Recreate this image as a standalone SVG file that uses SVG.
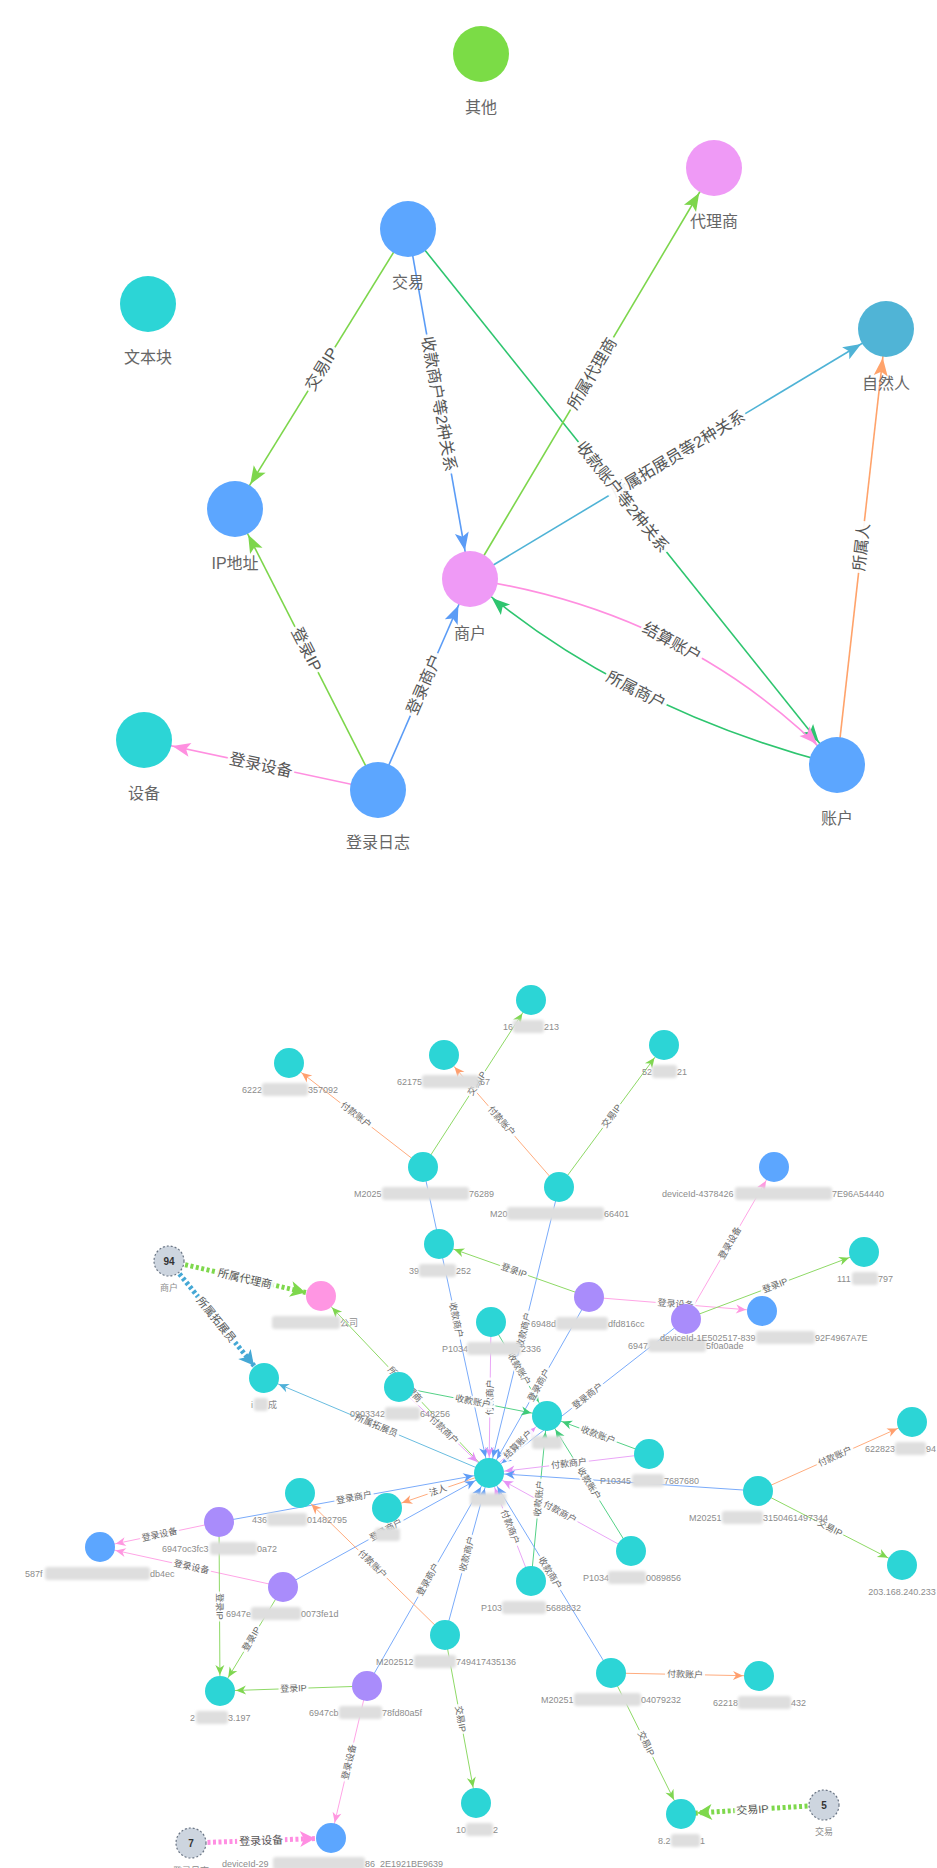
<svg xmlns="http://www.w3.org/2000/svg" width="937" height="1868" viewBox="0 0 937 1868">
<defs>
<style>
text{font-family:"Liberation Sans","Noto Sans CJK SC",sans-serif}
.t{fill:none;stroke-width:1.6}
.b{fill:none;stroke-width:1}
.d{fill:none;stroke-width:5;stroke-dasharray:3 2.5}
.tl rect{fill:#fff;opacity:.92}
.tl text{font-size:16px;fill:#555;text-anchor:middle;dominant-baseline:central}
.bl rect{fill:#fff;opacity:.88}
.bl text{font-size:9px;fill:#666;text-anchor:middle;dominant-baseline:central}
.dl rect{fill:#fff;opacity:.9}
.dl text{font-size:11px;fill:#555;text-anchor:middle;dominant-baseline:central}
.tn text{font-size:16px;fill:#666;text-anchor:middle}
.bn text{font-size:9px;fill:#8c8c8c}
.bz{fill:#dedede;filter:url(#bf)}
.gn circle{fill:#cdd5df;stroke:#6b7685;stroke-width:1.2;stroke-dasharray:2 2}
.cy{fill:#2cd5d6}.pu{fill:#a98cfb}.bu{fill:#5ca6ff}.pk{fill:#ff96e3}
</style>
<filter id="bf" x="-20%" y="-60%" width="140%" height="220%"><feGaussianBlur stdDeviation="1.6"/></filter>
<marker id="t-green" markerUnits="userSpaceOnUse" orient="auto" overflow="visible" markerWidth="1" markerHeight="1"><path d="M-29,0 L-47,-7 L-43,0 L-47,7Z" fill="#7dd64c"/></marker>
<marker id="t-blue" markerUnits="userSpaceOnUse" orient="auto" overflow="visible" markerWidth="1" markerHeight="1"><path d="M-29,0 L-47,-7 L-43,0 L-47,7Z" fill="#5b9cf6"/></marker>
<marker id="t-emer" markerUnits="userSpaceOnUse" orient="auto" overflow="visible" markerWidth="1" markerHeight="1"><path d="M-29,0 L-47,-7 L-43,0 L-47,7Z" fill="#2ec56f"/></marker>
<marker id="t-lblue" markerUnits="userSpaceOnUse" orient="auto" overflow="visible" markerWidth="1" markerHeight="1"><path d="M-29,0 L-47,-7 L-43,0 L-47,7Z" fill="#4fb3d6"/></marker>
<marker id="t-orange" markerUnits="userSpaceOnUse" orient="auto" overflow="visible" markerWidth="1" markerHeight="1"><path d="M-29,0 L-47,-7 L-43,0 L-47,7Z" fill="#ffa36b"/></marker>
<marker id="t-pink" markerUnits="userSpaceOnUse" orient="auto" overflow="visible" markerWidth="1" markerHeight="1"><path d="M-29,0 L-47,-7 L-43,0 L-47,7Z" fill="#ff8fe0"/></marker>
<marker id="b-blue" markerUnits="userSpaceOnUse" orient="auto" overflow="visible" markerWidth="1" markerHeight="1"><path d="M-16,0 L-26,-4.5 L-23,0 L-26,4.5Z" fill="#5f9cf6"/></marker>
<marker id="b-violet" markerUnits="userSpaceOnUse" orient="auto" overflow="visible" markerWidth="1" markerHeight="1"><path d="M-16,0 L-26,-4.5 L-23,0 L-26,4.5Z" fill="#e592f5"/></marker>
<marker id="b-emer" markerUnits="userSpaceOnUse" orient="auto" overflow="visible" markerWidth="1" markerHeight="1"><path d="M-16,0 L-26,-4.5 L-23,0 L-26,4.5Z" fill="#3fcb78"/></marker>
<marker id="b-green" markerUnits="userSpaceOnUse" orient="auto" overflow="visible" markerWidth="1" markerHeight="1"><path d="M-16,0 L-26,-4.5 L-23,0 L-26,4.5Z" fill="#7fd650"/></marker>
<marker id="b-orange" markerUnits="userSpaceOnUse" orient="auto" overflow="visible" markerWidth="1" markerHeight="1"><path d="M-16,0 L-26,-4.5 L-23,0 L-26,4.5Z" fill="#ff9f6e"/></marker>
<marker id="b-pink" markerUnits="userSpaceOnUse" orient="auto" overflow="visible" markerWidth="1" markerHeight="1"><path d="M-16,0 L-26,-4.5 L-23,0 L-26,4.5Z" fill="#ff97e0"/></marker>
<marker id="b-lblue" markerUnits="userSpaceOnUse" orient="auto" overflow="visible" markerWidth="1" markerHeight="1"><path d="M-16,0 L-26,-4.5 L-23,0 L-26,4.5Z" fill="#4fb0d8"/></marker>
<marker id="d-green" markerUnits="userSpaceOnUse" orient="auto" overflow="visible" markerWidth="1" markerHeight="1"><path d="M-16,0 L-31,-8 L-27,0 L-31,8Z" fill="#7ed84c"/></marker>
<marker id="d-lblue" markerUnits="userSpaceOnUse" orient="auto" overflow="visible" markerWidth="1" markerHeight="1"><path d="M-16,0 L-31,-8 L-27,0 L-31,8Z" fill="#45a8d5"/></marker>
<marker id="d-pink" markerUnits="userSpaceOnUse" orient="auto" overflow="visible" markerWidth="1" markerHeight="1"><path d="M-16,0 L-31,-8 L-27,0 L-31,8Z" fill="#ff8ee2"/></marker>
</defs>
<rect width="937" height="1868" fill="#fff"/>

<g id="schema-edges">
<line class="t" x1="408" y1="229" x2="235" y2="509" stroke="#7dd64c" marker-end="url(#t-green)"/>
<line class="t" x1="408" y1="229" x2="470" y2="579" stroke="#5b9cf6" marker-end="url(#t-blue)"/>
<line class="t" x1="408" y1="229" x2="837" y2="765" stroke="#2ec56f" marker-end="url(#t-emer)"/>
<line class="t" x1="470" y1="579" x2="714" y2="168" stroke="#7dd64c" marker-end="url(#t-green)"/>
<line class="t" x1="470" y1="579" x2="886" y2="329" stroke="#4fb3d6" marker-end="url(#t-lblue)"/>
<line class="t" x1="837" y1="765" x2="886" y2="329" stroke="#ffa36b" marker-end="url(#t-orange)"/>
<path class="t" d="M470,579 Q690.5,612 837,765" stroke="#ff8fe0" marker-end="url(#t-pink)"/>
<path class="t" d="M837,765 Q618.5,708 470,579" stroke="#2ec56f" marker-end="url(#t-emer)"/>
<line class="t" x1="378" y1="790" x2="235" y2="509" stroke="#7dd64c" marker-end="url(#t-green)"/>
<line class="t" x1="378" y1="790" x2="470" y2="579" stroke="#5b9cf6" marker-end="url(#t-blue)"/>
<line class="t" x1="378" y1="790" x2="144" y2="740" stroke="#ff8fe0" marker-end="url(#t-pink)"/>
<g class="tl" transform="translate(321.5 369) rotate(-58.3)"><rect x="-25.5" y="-10" width="51" height="20"/><text>交易IP</text></g>
<g class="tl" transform="translate(439 404) rotate(79.95)"><rect x="-70.5" y="-10" width="141" height="20"/><text>收款商户等2种关系</text></g>
<g class="tl" transform="translate(678 454) rotate(-31)"><rect x="-78.5" y="-10" width="157" height="20"/><text>所属拓展员等2种关系</text></g>
<g class="tl" transform="translate(622.5 497) rotate(51.3)"><rect x="-70.5" y="-10" width="141" height="20"/><text>收款账户等2种关系</text></g>
<g class="tl" transform="translate(592 373.5) rotate(-59.3)"><rect x="-42" y="-10" width="84" height="20"/><text>所属代理商</text></g>
<g class="tl" transform="translate(861.5 547) rotate(-83.6)"><rect x="-26" y="-10" width="52" height="20"/><text>所属人</text></g>
<g class="tl" transform="translate(672 642) rotate(29)"><rect x="-34" y="-10" width="68" height="20"/><text>结算账户</text></g>
<g class="tl" transform="translate(636 690) rotate(27)"><rect x="-34" y="-10" width="68" height="20"/><text>所属商户</text></g>
<g class="tl" transform="translate(306.5 649.5) rotate(63)"><rect x="-25.5" y="-10" width="51" height="20"/><text>登录IP</text></g>
<g class="tl" transform="translate(424 684.5) rotate(-66.4)"><rect x="-34" y="-10" width="68" height="20"/><text>登录商户</text></g>
<g class="tl" transform="translate(261 765) rotate(12.06)"><rect x="-34" y="-10" width="68" height="20"/><text>登录设备</text></g>
</g>

<g id="schema-nodes" class="tn">
<g id="n-qita"><circle cx="481" cy="54" r="28" fill="#7bdc46"/><text x="481" y="113">其他</text></g>
<g id="n-dailishang"><circle cx="714" cy="168" r="28" fill="#ef9af6"/><text x="714" y="227">代理商</text></g>
<g id="n-jiaoyi"><circle cx="408" cy="229" r="28" fill="#5ca6ff"/><text x="408" y="288">交易</text></g>
<g id="n-wenbenkuai"><circle cx="148" cy="304" r="28" fill="#2cd5d6"/><text x="148" y="363">文本块</text></g>
<g id="n-ziranren"><circle cx="886" cy="329" r="28" fill="#50b4d6"/><text x="886" y="389">自然人</text></g>
<g id="n-ip"><circle cx="235" cy="509" r="28" fill="#5ca6ff"/><text x="235" y="569">IP地址</text></g>
<g id="n-shanghu"><circle cx="470" cy="579" r="28" fill="#ef9af6"/><text x="470" y="639">商户</text></g>
<g id="n-shebei"><circle cx="144" cy="740" r="28" fill="#2cd5d6"/><text x="144" y="799">设备</text></g>
<g id="n-denglurizhi"><circle cx="378" cy="790" r="28" fill="#5ca6ff"/><text x="378" y="848">登录日志</text></g>
<g id="n-zhanghu"><circle cx="837" cy="765" r="28" fill="#5ca6ff"/><text x="837" y="824">账户</text></g>
</g>

<g id="graph-edges">
<line class="b" x1="423" y1="1167" x2="289" y2="1063" stroke="#ffac7e" marker-end="url(#b-orange)"/>
<line class="b" x1="423" y1="1167" x2="531" y2="1000" stroke="#8ed966" marker-end="url(#b-green)"/>
<line class="b" x1="559" y1="1187" x2="444" y2="1055" stroke="#ffac7e" marker-end="url(#b-orange)"/>
<line class="b" x1="559" y1="1187" x2="664" y2="1045" stroke="#8ed966" marker-end="url(#b-green)"/>
<line class="b" x1="423" y1="1167" x2="489" y2="1473" stroke="#7aabfa" marker-end="url(#b-blue)"/>
<line class="b" x1="559" y1="1187" x2="489" y2="1473" stroke="#7aabfa" marker-end="url(#b-blue)"/>
<line class="b" x1="589" y1="1297" x2="439" y2="1244" stroke="#8ed966" marker-end="url(#b-green)"/>
<line class="b" x1="589" y1="1297" x2="762" y2="1311" stroke="#ffa5e6" marker-end="url(#b-pink)"/>
<line class="b" x1="589" y1="1297" x2="489" y2="1473" stroke="#7aabfa" marker-end="url(#b-blue)"/>
<line class="b" x1="686" y1="1319" x2="774" y2="1167" stroke="#ffa5e6" marker-end="url(#b-pink)"/>
<line class="b" x1="686" y1="1319" x2="864" y2="1252" stroke="#8ed966" marker-end="url(#b-green)"/>
<line class="b" x1="686" y1="1319" x2="489" y2="1473" stroke="#7aabfa" marker-end="url(#b-blue)"/>
<line class="d" x1="169" y1="1261" x2="321" y2="1296" stroke="#7ed84c" marker-end="url(#d-green)"/>
<line class="d" x1="169" y1="1261" x2="264" y2="1378" stroke="#45a8d5" marker-end="url(#d-lblue)"/>
<line class="b" x1="489" y1="1473" x2="321" y2="1296" stroke="#8ed966" marker-end="url(#b-green)"/>
<line class="b" x1="489" y1="1473" x2="264" y2="1378" stroke="#6abde0" marker-end="url(#b-lblue)"/>
<line class="b" x1="491" y1="1322" x2="489" y2="1473" stroke="#eaa6f7" marker-end="url(#b-violet)"/>
<line class="b" x1="491" y1="1322" x2="547" y2="1416" stroke="#55d187" marker-end="url(#b-emer)"/>
<line class="b" x1="399" y1="1387" x2="489" y2="1473" stroke="#eaa6f7" marker-end="url(#b-violet)"/>
<line class="b" x1="399" y1="1387" x2="547" y2="1416" stroke="#55d187" marker-end="url(#b-emer)"/>
<line class="b" x1="489" y1="1473" x2="547" y2="1416" stroke="#eaa6f7" marker-end="url(#b-violet)"/>
<line class="b" x1="489" y1="1473" x2="387" y2="1508" stroke="#ffac7e" marker-end="url(#b-orange)"/>
<line class="b" x1="219" y1="1522" x2="489" y2="1473" stroke="#7aabfa" marker-end="url(#b-blue)"/>
<line class="b" x1="283" y1="1587" x2="489" y2="1473" stroke="#7aabfa" marker-end="url(#b-blue)"/>
<line class="b" x1="367" y1="1686" x2="489" y2="1473" stroke="#7aabfa" marker-end="url(#b-blue)"/>
<line class="b" x1="445" y1="1635" x2="489" y2="1473" stroke="#7aabfa" marker-end="url(#b-blue)"/>
<line class="b" x1="445" y1="1635" x2="300" y2="1493" stroke="#ffac7e" marker-end="url(#b-orange)"/>
<line class="b" x1="445" y1="1635" x2="476" y2="1803" stroke="#8ed966" marker-end="url(#b-green)"/>
<line class="b" x1="531" y1="1581" x2="489" y2="1473" stroke="#eaa6f7" marker-end="url(#b-violet)"/>
<line class="b" x1="531" y1="1581" x2="547" y2="1416" stroke="#55d187" marker-end="url(#b-emer)"/>
<line class="b" x1="611" y1="1673" x2="489" y2="1473" stroke="#7aabfa" marker-end="url(#b-blue)"/>
<line class="b" x1="611" y1="1673" x2="759" y2="1676" stroke="#ffac7e" marker-end="url(#b-orange)"/>
<line class="b" x1="611" y1="1673" x2="681" y2="1814" stroke="#8ed966" marker-end="url(#b-green)"/>
<line class="b" x1="631" y1="1551" x2="489" y2="1473" stroke="#eaa6f7" marker-end="url(#b-violet)"/>
<line class="b" x1="631" y1="1551" x2="547" y2="1416" stroke="#55d187" marker-end="url(#b-emer)"/>
<line class="b" x1="649" y1="1454" x2="489" y2="1473" stroke="#eaa6f7" marker-end="url(#b-violet)"/>
<line class="b" x1="649" y1="1454" x2="547" y2="1416" stroke="#55d187" marker-end="url(#b-emer)"/>
<line class="b" x1="758" y1="1491" x2="489" y2="1473" stroke="#7aabfa" marker-end="url(#b-blue)"/>
<line class="b" x1="758" y1="1491" x2="912" y2="1422" stroke="#ffac7e" marker-end="url(#b-orange)"/>
<line class="b" x1="758" y1="1491" x2="902" y2="1565" stroke="#8ed966" marker-end="url(#b-green)"/>
<line class="b" x1="219" y1="1522" x2="100" y2="1547" stroke="#ffa5e6" marker-end="url(#b-pink)"/>
<line class="b" x1="283" y1="1587" x2="100" y2="1547" stroke="#ffa5e6" marker-end="url(#b-pink)"/>
<line class="b" x1="219" y1="1522" x2="220" y2="1691" stroke="#8ed966" marker-end="url(#b-green)"/>
<line class="b" x1="283" y1="1587" x2="220" y2="1691" stroke="#8ed966" marker-end="url(#b-green)"/>
<line class="b" x1="367" y1="1686" x2="220" y2="1691" stroke="#8ed966" marker-end="url(#b-green)"/>
<line class="b" x1="367" y1="1686" x2="331" y2="1838" stroke="#ffa5e6" marker-end="url(#b-pink)"/>
<line class="d" x1="191" y1="1843" x2="331" y2="1838" stroke="#ff8ee2" marker-end="url(#d-pink)"/>
<line class="d" x1="824" y1="1805" x2="681" y2="1814" stroke="#7ed84c" marker-end="url(#d-green)"/>

<g class="bl" transform="translate(356 1115) rotate(37.8)"><rect x="-20" y="-5.5" width="40" height="11"/><text>付款账户</text></g>
<g class="bl" transform="translate(477 1083.5) rotate(-57.1)"><rect x="-15" y="-5.5" width="30" height="11"/><text>交易IP</text></g>
<g class="bl" transform="translate(501.5 1121) rotate(48.9)"><rect x="-20" y="-5.5" width="40" height="11"/><text>付款账户</text></g>
<g class="bl" transform="translate(611.5 1116) rotate(-53.5)"><rect x="-15" y="-5.5" width="30" height="11"/><text>交易IP</text></g>
<g class="bl" transform="translate(456 1320) rotate(77.8)"><rect x="-20" y="-5.5" width="40" height="11"/><text>收款商户</text></g>
<g class="bl" transform="translate(524 1330) rotate(-76.2)"><rect x="-20" y="-5.5" width="40" height="11"/><text>收款商户</text></g>
<g class="bl" transform="translate(514 1270.5) rotate(19.5)"><rect x="-15" y="-5.5" width="30" height="11"/><text>登录IP</text></g>
<g class="bl" transform="translate(675.5 1304) rotate(4.6)"><rect x="-20" y="-5.5" width="40" height="11"/><text>登录设备</text></g>
<g class="bl" transform="translate(539 1385) rotate(-60.4)"><rect x="-20" y="-5.5" width="40" height="11"/><text>登录商户</text></g>
<g class="bl" transform="translate(730 1243) rotate(-59.9)"><rect x="-20" y="-5.5" width="40" height="11"/><text>登录设备</text></g>
<g class="bl" transform="translate(775 1285.5) rotate(-20.6)"><rect x="-15" y="-5.5" width="30" height="11"/><text>登录IP</text></g>
<g class="bl" transform="translate(587.5 1396) rotate(-38)"><rect x="-20" y="-5.5" width="40" height="11"/><text>登录商户</text></g>
<g class="dl" transform="translate(245 1278.5) rotate(13)"><rect x="-29.5" y="-7" width="59" height="14"/><text>所属代理商</text></g>
<g class="dl" transform="translate(216.5 1319.5) rotate(50.9)"><rect x="-29.5" y="-7" width="59" height="14"/><text>所属拓展员</text></g>
<g class="bl" transform="translate(405 1384.5) rotate(46.5)"><rect x="-24.5" y="-5.5" width="49" height="11"/><text>所属代理商</text></g>
<g class="bl" transform="translate(376.5 1425.5) rotate(22.9)"><rect x="-24.5" y="-5.5" width="49" height="11"/><text>所属拓展员</text></g>
<g class="bl" transform="translate(490 1397.5) rotate(-89.2)"><rect x="-20" y="-5.5" width="40" height="11"/><text>付款商户</text></g>
<g class="bl" transform="translate(519 1369) rotate(59.2)"><rect x="-20" y="-5.5" width="40" height="11"/><text>收款账户</text></g>
<g class="bl" transform="translate(444 1430) rotate(43.7)"><rect x="-20" y="-5.5" width="40" height="11"/><text>付款商户</text></g>
<g class="bl" transform="translate(473 1401.5) rotate(11.1)"><rect x="-20" y="-5.5" width="40" height="11"/><text>收款账户</text></g>
<g class="bl" transform="translate(518 1444.5) rotate(-44.5)"><rect x="-20" y="-5.5" width="40" height="11"/><text>结算账户</text></g>
<g class="bl" transform="translate(438 1490.5) rotate(-19)"><rect x="-11" y="-5.5" width="22" height="11"/><text>法人</text></g>
<g class="bl" transform="translate(354 1497.5) rotate(-10.3)"><rect x="-20" y="-5.5" width="40" height="11"/><text>登录商户</text></g>
<g class="bl" transform="translate(386 1530) rotate(-29)"><rect x="-20" y="-5.5" width="40" height="11"/><text>登录商户</text></g>
<g class="bl" transform="translate(428 1579.5) rotate(-60.2)"><rect x="-20" y="-5.5" width="40" height="11"/><text>登录商户</text></g>
<g class="bl" transform="translate(467 1554) rotate(-74.8)"><rect x="-20" y="-5.5" width="40" height="11"/><text>收款商户</text></g>
<g class="bl" transform="translate(372.5 1564) rotate(44.4)"><rect x="-20" y="-5.5" width="40" height="11"/><text>付款账户</text></g>
<g class="bl" transform="translate(460.5 1719) rotate(79.5)"><rect x="-15" y="-5.5" width="30" height="11"/><text>交易IP</text></g>
<g class="bl" transform="translate(510 1527) rotate(68.7)"><rect x="-20" y="-5.5" width="40" height="11"/><text>付款商户</text></g>
<g class="bl" transform="translate(539 1498.5) rotate(-84.5)"><rect x="-20" y="-5.5" width="40" height="11"/><text>收款账户</text></g>
<g class="bl" transform="translate(550 1573) rotate(58.6)"><rect x="-20" y="-5.5" width="40" height="11"/><text>收款商户</text></g>
<g class="bl" transform="translate(685 1674.5) rotate(1.2)"><rect x="-20" y="-5.5" width="40" height="11"/><text>付款账户</text></g>
<g class="bl" transform="translate(646 1743.5) rotate(63.6)"><rect x="-15" y="-5.5" width="30" height="11"/><text>交易IP</text></g>
<g class="bl" transform="translate(560 1512) rotate(28.8)"><rect x="-20" y="-5.5" width="40" height="11"/><text>付款商户</text></g>
<g class="bl" transform="translate(589 1483.5) rotate(58.1)"><rect x="-20" y="-5.5" width="40" height="11"/><text>收款账户</text></g>
<g class="bl" transform="translate(569 1463.5) rotate(-6.8)"><rect x="-20" y="-5.5" width="40" height="11"/><text>付款商户</text></g>
<g class="bl" transform="translate(598 1435) rotate(20.4)"><rect x="-20" y="-5.5" width="40" height="11"/><text>收款账户</text></g>
<g class="bl" transform="translate(835 1456.5) rotate(-24.1)"><rect x="-20" y="-5.5" width="40" height="11"/><text>付款账户</text></g>
<g class="bl" transform="translate(830 1528) rotate(27.2)"><rect x="-15" y="-5.5" width="30" height="11"/><text>交易IP</text></g>
<g class="bl" transform="translate(159.5 1534.5) rotate(-11.9)"><rect x="-20" y="-5.5" width="40" height="11"/><text>登录设备</text></g>
<g class="bl" transform="translate(191.5 1567) rotate(12.3)"><rect x="-20" y="-5.5" width="40" height="11"/><text>登录设备</text></g>
<g class="bl" transform="translate(219.5 1606.5) rotate(89.7)"><rect x="-15" y="-5.5" width="30" height="11"/><text>登录IP</text></g>
<g class="bl" transform="translate(251.5 1639) rotate(-58.8)"><rect x="-15" y="-5.5" width="30" height="11"/><text>登录IP</text></g>
<g class="bl" transform="translate(293.5 1688.5) rotate(-2)"><rect x="-15" y="-5.5" width="30" height="11"/><text>登录IP</text></g>
<g class="bl" transform="translate(349 1762) rotate(-76.7)"><rect x="-20" y="-5.5" width="40" height="11"/><text>登录设备</text></g>
<g class="dl" transform="translate(261 1840.5) rotate(-2)"><rect x="-24" y="-7" width="48" height="14"/><text>登录设备</text></g>
<g class="dl" transform="translate(752.5 1809.5) rotate(-3.6)"><rect x="-18" y="-7" width="36" height="14"/><text>交易IP</text></g>
</g>

<g id="graph-nodes" class="bn">
<g id="g-6222"><circle cx="289" cy="1063" r="15" class="cy"/><text x="242" y="1093">6222</text><rect class="bz" x="262" y="1083" width="46" height="13" rx="3"/><text x="308" y="1093">357092</text></g>
<g id="g-62175"><circle cx="444" cy="1055" r="15" class="cy"/><text x="397" y="1085">62175</text><rect class="bz" x="422" y="1075" width="57" height="13" rx="3"/><text x="480" y="1085">57</text></g>
<g id="g-m76289"><circle cx="423" cy="1167" r="15" class="cy"/><text x="354" y="1197">M2025</text><rect class="bz" x="382" y="1187" width="87" height="13" rx="3"/><text x="469" y="1197">76289</text></g>
<g id="g-39252"><circle cx="439" cy="1244" r="15" class="cy"/><text x="409" y="1274">39</text><rect class="bz" x="419" y="1264" width="37" height="13" rx="3"/><text x="456" y="1274">252</text></g>
<g id="g-16213"><circle cx="531" cy="1000" r="15" class="cy"/><text x="503" y="1030">16</text><rect class="bz" x="513" y="1020" width="31" height="13" rx="3"/><text x="544" y="1030">213</text></g>
<g id="g-5221"><circle cx="664" cy="1045" r="15" class="cy"/><text x="642" y="1075">52</text><rect class="bz" x="652" y="1065" width="25" height="13" rx="3"/><text x="677" y="1075">21</text></g>
<g id="g-m66401"><circle cx="559" cy="1187" r="15" class="cy"/><text x="490" y="1217">M20</text><rect class="bz" x="507" y="1207" width="97" height="13" rx="3"/><text x="604" y="1217">66401</text></g>
<g id="g-dev4378"><circle cx="774" cy="1167" r="15" class="bu"/><text x="662" y="1197">deviceId-4378426</text><rect class="bz" x="735" y="1187" width="97" height="13" rx="3"/><text x="832" y="1197">7E96A54440</text></g>
<g id="g-111797"><circle cx="864" cy="1252" r="15" class="cy"/><text x="837" y="1282">111</text><rect class="bz" x="852" y="1272" width="26" height="13" rx="3"/><text x="878" y="1282">797</text></g>
<g id="g-6948d"><circle cx="589" cy="1297" r="15" class="pu"/><text x="531" y="1327">6948d</text><rect class="bz" x="556" y="1317" width="52" height="13" rx="3"/><text x="608" y="1327">dfd816cc</text></g>
<g id="g-6947a"><circle cx="686" cy="1319" r="15" class="pu"/><text x="628" y="1349">6947</text><rect class="bz" x="648" y="1339" width="58" height="13" rx="3"/><text x="706" y="1349">5f0a0ade</text></g>
<g id="g-dev1e50"><circle cx="762" cy="1311" r="15" class="bu"/><text x="660" y="1341">deviceId-1E502517-839</text><rect class="bz" x="756" y="1331" width="59" height="13" rx="3"/><text x="815" y="1341">92F4967A7E</text></g>
<g id="g-agent"><circle cx="321" cy="1296" r="15" class="pk"/><rect class="bz" x="272" y="1316" width="68" height="13" rx="3"/><text x="340" y="1326">公司</text></g>
<g id="g-p2336"><circle cx="491" cy="1322" r="15" class="cy"/><text x="442" y="1352">P1034</text><rect class="bz" x="467" y="1342" width="54" height="13" rx="3"/><text x="521" y="1352">2336</text></g>
<g id="g-0903"><circle cx="399" cy="1387" r="15" class="cy"/><text x="350" y="1417">0903342</text><rect class="bz" x="385" y="1407" width="35" height="13" rx="3"/><text x="420" y="1417">648256</text></g>
<g id="g-person"><circle cx="264" cy="1378" r="15" class="cy"/><text x="251" y="1408">i</text><rect class="bz" x="254" y="1398" width="14" height="13" rx="3"/><text x="268" y="1408">成</text></g>
<g id="g-account"><circle cx="547" cy="1416" r="15" class="cy"/><rect class="bz" x="532" y="1436" width="30" height="13" rx="3"/></g>
<g id="g-hub"><circle cx="489" cy="1473" r="15" class="cy"/><rect class="bz" x="470" y="1493" width="36" height="13" rx="3"/></g>
<g id="g-p7680"><circle cx="649" cy="1454" r="15" class="cy"/><text x="600" y="1484">P10345</text><rect class="bz" x="632" y="1474" width="32" height="13" rx="3"/><text x="664" y="1484">7687680</text></g>
<g id="g-m7344"><circle cx="758" cy="1491" r="15" class="cy"/><text x="689" y="1521">M20251</text><rect class="bz" x="722" y="1511" width="41" height="13" rx="3"/><text x="763" y="1521">3150461497344</text></g>
<g id="g-6228"><circle cx="912" cy="1422" r="15" class="cy"/><text x="865" y="1452">622823</text><rect class="bz" x="895" y="1442" width="31" height="13" rx="3"/><text x="926" y="1452">94</text></g>
<g id="g-203"><circle cx="902" cy="1565" r="15" class="cy"/><text x="902" y="1595" text-anchor="middle">203.168.240.233</text></g>
<g id="g-436"><circle cx="300" cy="1493" r="15" class="cy"/><text x="252" y="1523">436</text><rect class="bz" x="267" y="1513" width="40" height="13" rx="3"/><text x="307" y="1523">01482795</text></g>
<g id="g-faren"><circle cx="387" cy="1508" r="15" class="cy"/><rect class="bz" x="375" y="1528" width="25" height="13" rx="3"/></g>
<g id="g-6947oc"><circle cx="219" cy="1522" r="15" class="pu"/><text x="162" y="1552">6947oc3fc3</text><rect class="bz" x="210" y="1542" width="47" height="13" rx="3"/><text x="257" y="1552">0a72</text></g>
<g id="g-dev587f"><circle cx="100" cy="1547" r="15" class="bu"/><text x="25" y="1577">587f</text><rect class="bz" x="45" y="1567" width="105" height="13" rx="3"/><text x="150" y="1577">db4ec</text></g>
<g id="g-6947e"><circle cx="283" cy="1587" r="15" class="pu"/><text x="226" y="1617">6947e</text><rect class="bz" x="251" y="1607" width="50" height="13" rx="3"/><text x="301" y="1617">0073fe1d</text></g>
<g id="g-p9856"><circle cx="631" cy="1551" r="15" class="cy"/><text x="583" y="1581">P1034</text><rect class="bz" x="608" y="1571" width="38" height="13" rx="3"/><text x="646" y="1581">0089856</text></g>
<g id="g-p8832"><circle cx="531" cy="1581" r="15" class="cy"/><text x="481" y="1611">P103</text><rect class="bz" x="502" y="1601" width="44" height="13" rx="3"/><text x="546" y="1611">5688832</text></g>
<g id="g-m5136"><circle cx="445" cy="1635" r="15" class="cy"/><text x="376" y="1665">M202512</text><rect class="bz" x="414" y="1655" width="42" height="13" rx="3"/><text x="456" y="1665">749417435136</text></g>
<g id="g-ip3197"><circle cx="220" cy="1691" r="15" class="cy"/><text x="190" y="1721">2</text><rect class="bz" x="196" y="1711" width="32" height="13" rx="3"/><text x="228" y="1721">3.197</text></g>
<g id="g-6947cb"><circle cx="367" cy="1686" r="15" class="pu"/><text x="309" y="1716">6947cb</text><rect class="bz" x="339" y="1706" width="43" height="13" rx="3"/><text x="382" y="1716">78fd80a5f</text></g>
<g id="g-m9232"><circle cx="611" cy="1673" r="15" class="cy"/><text x="541" y="1703">M20251</text><rect class="bz" x="574" y="1693" width="67" height="13" rx="3"/><text x="641" y="1703">04079232</text></g>
<g id="g-62218"><circle cx="759" cy="1676" r="15" class="cy"/><text x="713" y="1706">62218</text><rect class="bz" x="738" y="1696" width="53" height="13" rx="3"/><text x="791" y="1706">432</text></g>
<g id="g-ip10"><circle cx="476" cy="1803" r="15" class="cy"/><text x="456" y="1833">10</text><rect class="bz" x="466" y="1823" width="27" height="13" rx="3"/><text x="493" y="1833">2</text></g>
<g id="g-ip82"><circle cx="681" cy="1814" r="15" class="cy"/><text x="658" y="1844">8.2</text><rect class="bz" x="671" y="1834" width="29" height="13" rx="3"/><text x="700" y="1844">1</text></g>
<g id="g-dev29"><circle cx="331" cy="1838" r="15" class="bu"/><text x="222" y="1867">deviceId-29</text><rect class="bz" x="273" y="1857" width="92" height="13" rx="3"/><text x="365" y="1867">86_2E1921BE9639</text></g>
<g id="g-c94" class="gn"><circle cx="169" cy="1261" r="15"/><text x="169" y="1265" text-anchor="middle" style="font-size:10px;font-weight:bold;fill:#333">94</text><text x="169" y="1291" text-anchor="middle">商户</text></g>
<g id="g-c5" class="gn"><circle cx="824" cy="1805" r="15"/><text x="824" y="1809" text-anchor="middle" style="font-size:10px;font-weight:bold;fill:#333">5</text><text x="824" y="1835" text-anchor="middle">交易</text></g>
<g id="g-c7" class="gn"><circle cx="191" cy="1843" r="15"/><text x="191" y="1847" text-anchor="middle" style="font-size:10px;font-weight:bold;fill:#333">7</text><text x="191" y="1874" text-anchor="middle">登录日志</text></g>
</g>
</svg>
